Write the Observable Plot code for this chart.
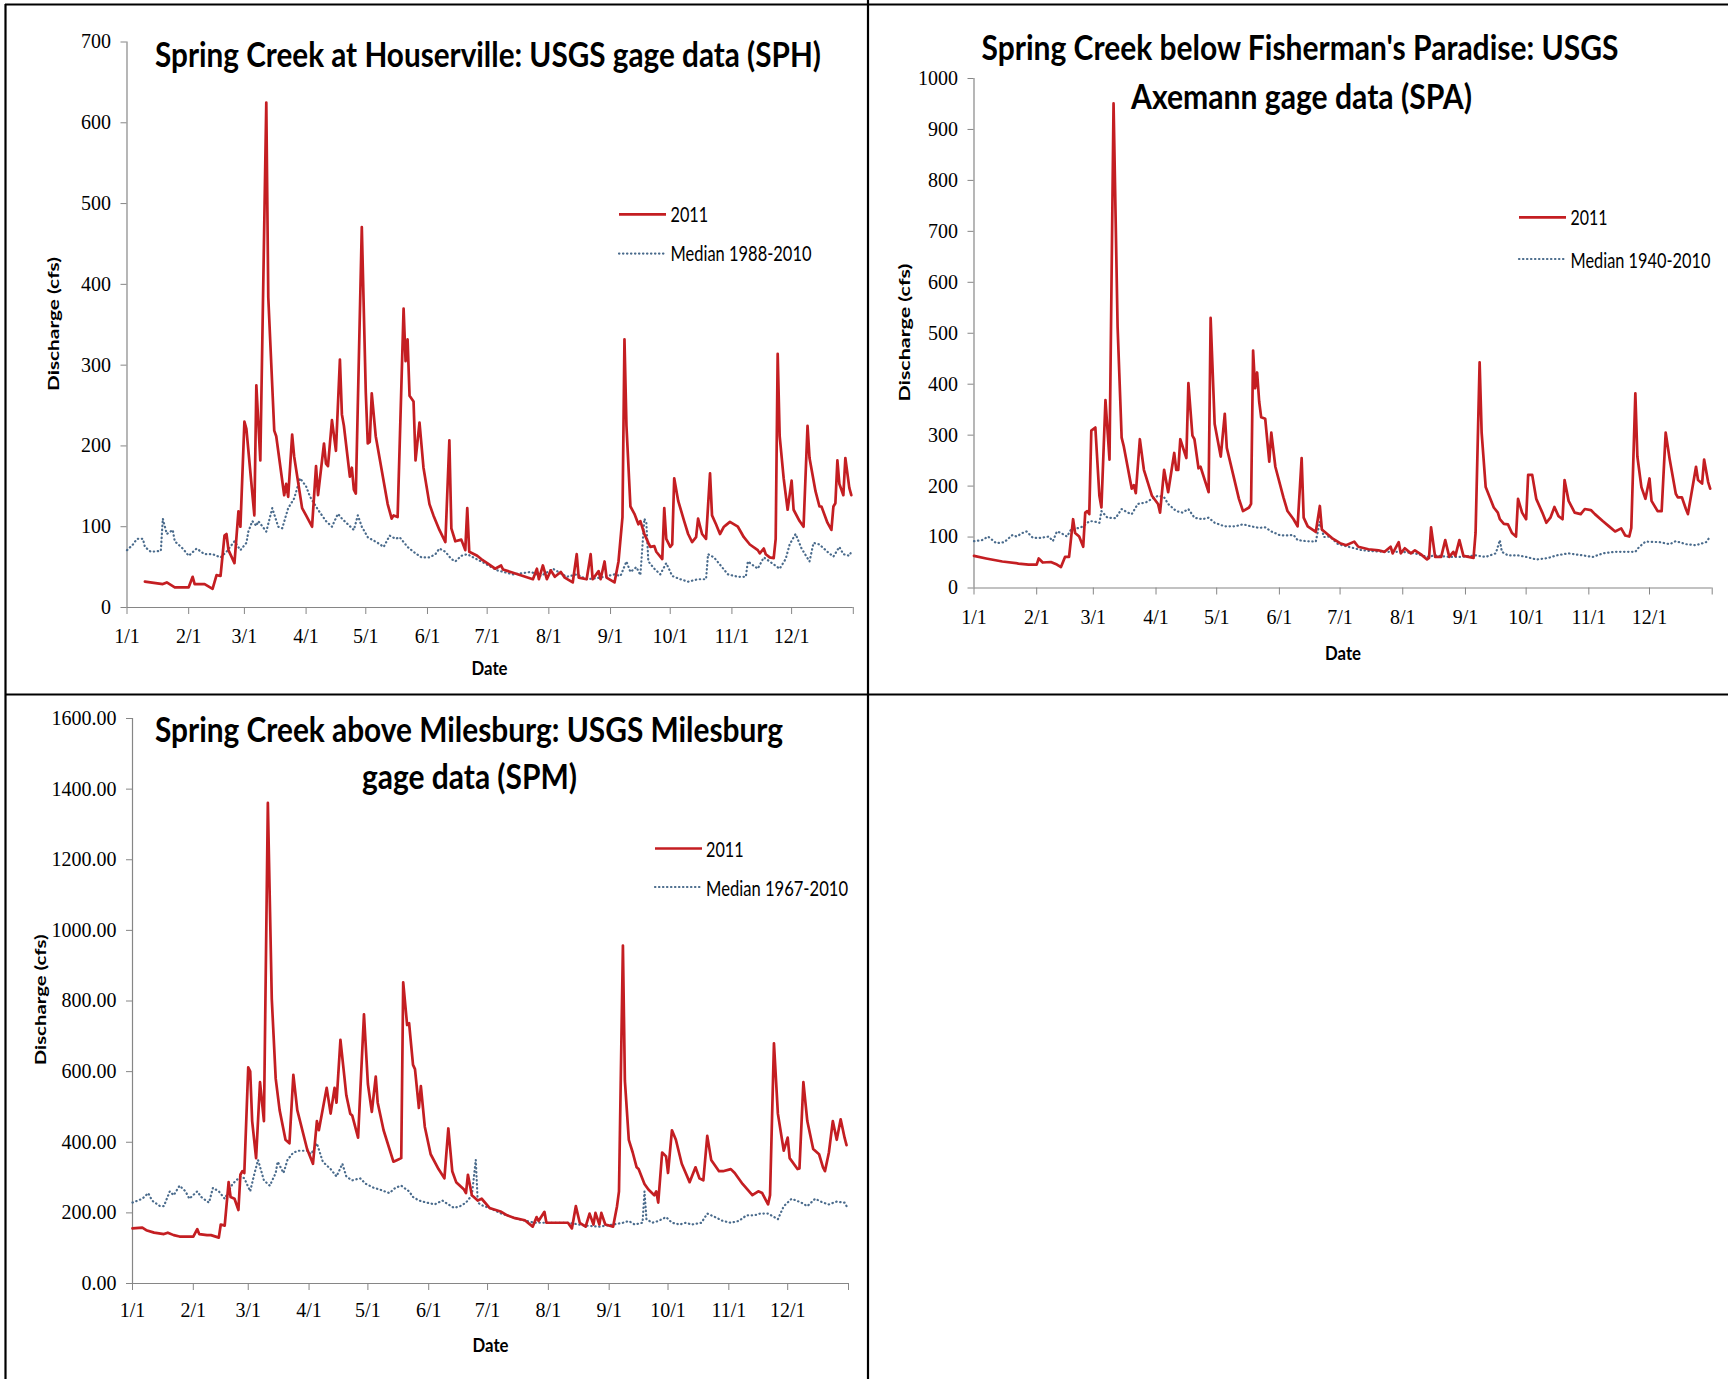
<!DOCTYPE html>
<html>
<head>
<meta charset="utf-8">
<script src="https://cdn.jsdelivr.net/npm/d3@7"></script>
<script src="https://cdn.jsdelivr.net/npm/@observablehq/plot@0.6"></script>
<style>
  html, body { margin: 0; padding: 0; background: #fff; width: 1728px; height: 1379px; overflow: hidden; }
  #page { position: relative; width: 1728px; height: 1379px; }
  .panel { position: absolute; }
  #overlay { position: absolute; left: 0; top: 0; pointer-events: none; }
</style>
</head>
<body>
<div id="page"></div>
<script>
// Daily discharge (cfs). Each pair is [day of year (0 = Jan 1), cfs].

// Spring Creek at Houserville (SPH)
const sph2011 = [[9,32],[18,29],[20,31],[24,25],[31,25],[33,38],[34,29],[39,29],[43,23],[45,40],[47,39],[49,89],[50,91],[51,71],[54,55],[56,119],[57,100],[59,230],[60,221],[64,114],[65,275],[67,182],[70,625],[71,384],[74,219],[75,212],[79,139],[80,153],[81,137],[83,214],[84,187],[88,123],[90,114],[93,100],[95,175],[96,139],[99,203],[100,178],[101,175],[103,232],[105,194],[107,307],[108,239],[109,225],[112,162],[113,173],[114,146],[115,141],[118,471],[120,266],[121,203],[122,205],[123,265],[125,212],[131,128],[133,110],[134,114],[136,112],[139,370],[140,305],[141,332],[142,262],[144,255],[145,182],[147,229],[149,173],[152,128],[154,114],[157,96],[160,81],[162,207],[163,98],[165,82],[168,84],[170,71],[171,123],[172,69],[176,64],[178,60],[181,55],[185,48],[188,52],[189,47],[194,43],[199,39],[204,35],[206,48],[207,35],[209,52],[211,35],[213,46],[215,38],[218,44],[220,37],[224,31],[226,66],[227,37],[231,35],[233,66],[234,35],[237,45],[238,35],[240,57],[241,37],[245,31],[247,57],[249,112],[250,332],[251,225],[253,125],[255,116],[257,103],[258,107],[260,91],[262,80],[263,75],[265,76],[266,69],[269,60],[270,123],[271,85],[273,75],[274,78],[275,160],[277,132],[280,107],[282,91],[284,81],[286,87],[287,110],[289,91],[291,85],[293,166],[294,114],[296,103],[298,91],[300,100],[301,102],[303,106],[307,100],[310,87],[313,78],[317,71],[318,67],[320,73],[321,66],[323,62],[325,61],[326,85],[327,314],[328,212],[330,160],[332,121],[334,157],[335,121],[338,107],[340,100],[342,225],[343,185],[346,144],[348,125],[349,125],[352,105],[354,96],[355,125],[356,129],[357,182],[358,153],[360,139],[361,185],[363,148],[364,139]];
const sphMedian = [[0,71],[3,78],[5,85],[8,85],[9,75],[12,69],[17,70],[18,110],[20,91],[23,96],[24,82],[28,73],[31,64],[35,73],[39,66],[43,66],[47,62],[50,69],[54,82],[57,71],[60,80],[61,94],[63,107],[65,101],[66,107],[70,94],[73,123],[76,100],[78,98],[81,123],[84,135],[87,160],[90,150],[92,137],[96,121],[100,107],[103,100],[106,116],[108,110],[111,103],[114,96],[116,114],[118,100],[121,87],[126,80],[129,75],[132,89],[135,85],[137,87],[141,75],[144,69],[148,62],[152,62],[155,66],[157,73],[160,69],[163,60],[165,57],[168,64],[171,66],[174,62],[178,57],[181,53],[186,46],[194,41],[203,44],[208,39],[214,48],[221,38],[226,41],[231,35],[238,37],[245,41],[248,39],[251,57],[253,44],[256,50],[258,40],[260,110],[261,105],[262,57],[265,48],[268,41],[271,55],[274,39],[278,35],[282,32],[287,35],[291,35],[292,66],[295,62],[298,53],[302,41],[307,38],[311,38],[312,57],[317,48],[320,62],[323,57],[328,48],[331,60],[333,78],[336,91],[339,73],[343,57],[345,80],[348,78],[352,69],[355,63],[358,75],[360,66],[363,64],[364,69]];

// Spring Creek below Fisherman's Paradise, Axemann gage (SPA)
const spa2011 = [[0,63],[6,58],[14,52],[22,48],[27,46],[31,46],[32,58],[34,50],[38,51],[41,46],[43,41],[45,61],[47,61],[49,135],[50,108],[52,101],[54,81],[55,148],[56,151],[57,145],[58,309],[60,315],[62,181],[63,158],[65,369],[67,252],[69,951],[71,513],[73,295],[74,279],[78,195],[79,202],[80,186],[82,292],[84,232],[88,181],[91,165],[92,148],[94,232],[96,188],[99,265],[100,232],[101,232],[102,292],[105,255],[106,402],[108,299],[109,292],[111,235],[112,238],[116,188],[117,530],[119,322],[122,258],[124,342],[125,275],[131,175],[133,151],[136,158],[137,165],[138,466],[139,392],[140,423],[141,366],[142,335],[144,332],[146,248],[147,305],[149,238],[153,178],[155,151],[158,135],[160,121],[162,255],[163,138],[165,121],[169,110],[171,161],[172,115],[177,98],[181,88],[184,84],[188,91],[190,81],[195,76],[200,74],[203,71],[206,81],[207,68],[210,90],[211,68],[213,78],[216,68],[218,74],[221,66],[224,56],[225,59],[226,119],[228,61],[231,61],[233,94],[235,61],[237,71],[238,63],[240,94],[242,63],[247,59],[248,108],[250,443],[251,305],[253,198],[255,178],[257,158],[259,148],[260,135],[262,126],[264,125],[266,108],[268,101],[269,175],[271,148],[273,135],[274,222],[276,222],[278,175],[281,148],[283,128],[285,138],[287,159],[289,141],[291,135],[292,212],[294,171],[297,148],[300,145],[302,155],[305,153],[307,145],[311,131],[314,121],[317,111],[320,117],[322,103],[324,101],[325,118],[327,382],[328,258],[330,198],[332,175],[334,215],[335,171],[338,151],[340,151],[342,305],[344,252],[347,185],[348,178],[350,178],[352,155],[353,145],[357,238],[358,212],[360,205],[361,252],[363,208],[364,195]];
const spaMedian = [[0,92],[4,94],[7,101],[11,88],[15,90],[19,104],[21,101],[24,108],[26,111],[29,99],[32,98],[37,101],[39,92],[41,111],[43,108],[46,101],[48,115],[52,118],[54,121],[57,131],[59,131],[62,128],[63,151],[66,138],[70,137],[73,155],[76,148],[78,145],[81,165],[85,168],[88,175],[91,181],[94,178],[96,165],[100,151],[103,148],[106,155],[109,138],[113,135],[116,138],[119,128],[124,121],[129,121],[133,125],[137,121],[141,118],[144,119],[147,111],[151,104],[154,103],[158,104],[160,94],[164,92],[169,91],[171,130],[173,100],[176,101],[180,86],[185,81],[192,74],[198,72],[205,71],[212,71],[218,68],[224,61],[228,64],[235,61],[241,61],[248,64],[253,61],[258,68],[260,94],[261,71],[264,64],[269,64],[273,61],[278,56],[284,59],[288,64],[294,68],[301,64],[306,61],[311,68],[317,71],[322,71],[327,71],[329,81],[332,91],[339,90],[344,86],[347,92],[352,86],[357,84],[362,90],[364,101]];

// Spring Creek above Milesburg (SPM)
const spm2011 = [[0,156],[5,158],[7,151],[11,144],[16,140],[18,144],[21,137],[24,133],[31,133],[33,154],[34,140],[38,137],[40,137],[44,130],[45,167],[47,164],[49,287],[50,245],[52,240],[54,208],[55,308],[56,318],[57,313],[59,612],[60,601],[61,460],[63,355],[65,570],[67,460],[69,1361],[71,806],[73,580],[75,491],[78,407],[80,397],[82,591],[84,491],[89,381],[92,339],[94,460],[95,434],[99,554],[101,481],[103,554],[104,512],[106,690],[108,586],[109,533],[111,481],[112,476],[115,413],[118,762],[120,565],[122,486],[124,586],[125,512],[128,434],[133,345],[135,350],[137,355],[138,853],[140,732],[141,737],[143,619],[144,607],[146,497],[147,559],[149,444],[152,366],[156,324],[159,298],[161,439],[163,318],[165,287],[169,266],[170,256],[171,308],[173,250],[176,235],[178,240],[182,214],[188,203],[191,193],[195,185],[200,179],[204,161],[206,188],[207,177],[210,203],[211,172],[217,172],[222,172],[224,156],[226,219],[228,172],[231,161],[233,198],[235,167],[236,200],[238,167],[239,200],[241,167],[245,161],[247,219],[248,261],[250,957],[251,575],[253,407],[255,371],[257,329],[258,324],[261,282],[263,266],[266,250],[267,261],[268,229],[270,371],[272,360],[273,313],[275,434],[277,407],[280,339],[284,287],[287,329],[289,298],[291,292],[293,418],[295,350],[299,318],[301,318],[305,324],[307,313],[311,282],[316,250],[319,261],[321,256],[324,224],[325,250],[327,680],[329,481],[332,376],[334,413],[335,355],[339,324],[340,326],[342,570],[344,460],[347,381],[350,366],[352,329],[353,318],[355,371],[357,460],[359,407],[361,465],[363,413],[364,392]];
const spmMedian = [[0,229],[5,240],[8,256],[10,235],[14,219],[16,219],[19,261],[21,250],[24,277],[27,261],[29,240],[33,261],[35,245],[39,229],[41,271],[44,261],[47,240],[49,261],[51,282],[55,303],[57,298],[60,261],[62,308],[64,350],[67,292],[70,277],[73,313],[74,345],[77,313],[79,350],[82,371],[85,376],[89,376],[91,366],[94,397],[97,345],[101,324],[104,303],[107,339],[109,303],[112,292],[116,298],[119,282],[123,271],[126,266],[131,256],[134,271],[137,277],[141,261],[143,245],[146,235],[150,229],[154,224],[158,235],[161,224],[164,214],[167,219],[170,229],[173,250],[175,350],[176,229],[179,219],[182,214],[188,198],[197,182],[205,172],[214,172],[222,172],[231,164],[238,161],[245,167],[250,172],[253,177],[256,167],[260,172],[261,261],[262,182],[265,172],[268,177],[272,188],[275,172],[279,167],[282,172],[285,167],[290,172],[293,198],[297,188],[301,177],[305,172],[309,177],[313,193],[317,193],[320,198],[324,198],[329,182],[332,219],[336,240],[341,229],[344,219],[348,240],[352,229],[355,224],[359,232],[363,229],[364,219]];

// Text
const titles = {
  sph: ["Spring Creek at Houserville: USGS gage data (SPH)"],
  spa: ["Spring Creek below Fisherman's Paradise: USGS", "Axemann gage data (SPA)"],
  spm: ["Spring Creek above Milesburg: USGS Milesburg", "gage data (SPM)"]
};
const seriesNames = { obs: "2011", sph: "Median 1988-2010", spa: "Median 1940-2010", spm: "Median 1967-2010" };
const yLabel = "Discharge (cfs)";
const xLabel = "Date";

const RED = "#c41e22";
const MEDIAN = "#4a6b8c";
const AXIS = "#868686";

const yearStart = new Date(Date.UTC(2011, 0, 1));
const yearEnd = new Date(Date.UTC(2012, 0, 1));
const toRows = pairs => pairs.map(([d, v]) => ({ date: new Date(Date.UTC(2011, 0, 1 + d)), cfs: v }));
const monthTicks = d3.utcMonth.range(yearStart, yearEnd).concat([yearEnd]);
const monthDay = d => (+d >= +yearEnd ? "" : `${d.getUTCMonth() + 1}/${d.getUTCDate()}`);

const panels = [
  { key: "sph", obs: sph2011, med: sphMedian, left: 0, top: 0, width: 868, height: 694,
    margin: [41.5, 15.2, 87, 126.5], yMax: 700, yStep: 100, yFormat: d3.format("d"), padX: 14,
    title: [{ x: 488, y: 67, len: 666 }],
    legend: { x1: 619, x2: 666, y1: 214.3, y2: 253.6, tx: 670.5, b1: 221.5, b2: 260.5, l1: 37.7, l2: 141 },
    ylab: { x: 58.5, y: 324, len: 134 }, xlab: { x: 489.5, y: 675 } },
  { key: "spa", obs: spa2011, med: spaMedian, left: 868, top: 0, width: 860, height: 694,
    margin: [78, 16.3, 106.5, 105.5], yMax: 1000, yStep: 100, yFormat: d3.format("d"), padX: 15,
    title: [{ x: 1300, y: 60, len: 637 }, { x: 1301.5, y: 109, len: 341 }],
    legend: { x1: 1519, x2: 1566, y1: 217.4, y2: 259, tx: 1570.5, b1: 225, b2: 268, l1: 37, l2: 140 },
    ylab: { x: 909.5, y: 332.6, len: 138 }, xlab: { x: 1343, y: 660 } },
  { key: "spm", obs: spm2011, med: spmMedian, left: 0, top: 694, width: 868, height: 685,
    margin: [24, 20, 96, 132], yMax: 1600, yStep: 200, yFormat: d3.format(".2f"), padX: 12,
    title: [{ x: 469, y: 742, len: 628 }, { x: 469.5, y: 789, len: 215 }],
    legend: { x1: 655, x2: 702, y1: 848.5, y2: 887, tx: 706, b1: 857, b2: 896, l1: 37.6, l2: 142 },
    ylab: { x: 45.5, y: 999.8, len: 131 }, xlab: { x: 490.5, y: 1352 } }
];

const page = document.getElementById("page");

for (const p of panels) {
  const [mt, mr, mb, ml] = p.margin;
  const chart = Plot.plot({
    width: p.width,
    height: p.height,
    marginTop: mt, marginRight: mr, marginBottom: mb, marginLeft: ml,
    style: { background: "transparent", fontFamily: "'Liberation Serif', serif", fontSize: "20px", color: "black", overflow: "visible" },
    x: { type: "utc", domain: [yearStart, yearEnd] },
    y: { domain: [0, p.yMax] },
    marks: [
      Plot.axisX({ ticks: monthTicks, tickFormat: monthDay, tickSize: 7, tickPadding: p.padX,
        stroke: AXIS, fill: "black", label: null, fontSize: 20, fontFamily: "'Liberation Serif', serif" }),
      Plot.axisY({ ticks: d3.range(0, p.yMax + 1, p.yStep), tickFormat: p.yFormat, tickSize: 6, tickPadding: 10,
        stroke: AXIS, fill: "black", label: null, fontSize: 20, fontFamily: "'Liberation Serif', serif" }),
      Plot.ruleY([0], { stroke: AXIS, strokeWidth: 1.2 }),
      Plot.ruleX([yearStart], { y1: 0, y2: p.yMax, stroke: AXIS, strokeWidth: 1.2 }),
      Plot.line(toRows(p.med), { x: "date", y: "cfs", stroke: MEDIAN, strokeWidth: 2.2,
        strokeDasharray: "0.4,3.6", strokeLinecap: "round" }),
      Plot.line(toRows(p.obs), { x: "date", y: "cfs", stroke: RED, strokeWidth: 2.7,
        strokeLinejoin: "round" })
    ]
  });
  chart.classList.add("panel");
  chart.style.left = p.left + "px";
  chart.style.top = p.top + "px";
  page.appendChild(chart);
}

// Frame lines, titles, legends and axis titles
const overlay = d3.select(page).append("svg")
  .attr("id", "overlay")
  .attr("width", 1728).attr("height", 1379);

const frame = [
  [5, 4.5, 1728, 4.5],
  [5.5, 4, 5.5, 1379],
  [868, 0, 868, 1379],
  [5, 694.5, 1728, 694.5]
];
overlay.selectAll("line.frame").data(frame).join("line")
  .attr("class", "frame")
  .attr("x1", d => d[0]).attr("y1", d => d[1]).attr("x2", d => d[2]).attr("y2", d => d[3])
  .attr("stroke", "#000").attr("stroke-width", 2.2);

// Text in the narrow, tall style of the chart: glyphs are stretched vertically by sy
function label(g, { x, y, text, size, weight = 400, len, rotate = 0, sy = 1, anchor = "middle" }) {
  const t = g.append("text")
    .attr("transform", `translate(${x},${y})` + (rotate ? ` rotate(${rotate})` : "") + (sy !== 1 ? ` scale(1,${sy})` : ""))
    .attr("text-anchor", anchor)
    .attr("font-family", "Lato, 'Open Sans', sans-serif")
    .attr("font-size", size)
    .attr("font-weight", weight)
    .attr("fill", "#000")
    .text(text);
  if (len) t.attr("textLength", len).attr("lengthAdjust", "spacingAndGlyphs");
  return t;
}

for (const p of panels) {
  const g = overlay.append("g");
  titles[p.key].forEach((line, i) => {
    const t = p.title[i];
    label(g, { x: t.x, y: t.y, text: line, size: 28, weight: 700, len: t.len, sy: 1.22 });
  });
  const L = p.legend;
  g.append("line").attr("x1", L.x1).attr("x2", L.x2).attr("y1", L.y1).attr("y2", L.y1)
    .attr("stroke", RED).attr("stroke-width", 2.7);
  g.append("line").attr("x1", L.x1).attr("x2", L.x2).attr("y1", L.y2).attr("y2", L.y2)
    .attr("stroke", MEDIAN).attr("stroke-width", 2.2)
    .attr("stroke-dasharray", "0.4,3.6").attr("stroke-linecap", "round");
  label(g, { x: L.tx, y: L.b1, text: seriesNames.obs, size: 17, len: L.l1, anchor: "start", sy: 1.2 });
  label(g, { x: L.tx, y: L.b2, text: seriesNames[p.key], size: 17, len: L.l2, anchor: "start", sy: 1.2 });
  label(g, { x: p.ylab.x, y: p.ylab.y, text: yLabel, size: 16, weight: 700, len: p.ylab.len, rotate: -90 });
  label(g, { x: p.xlab.x, y: p.xlab.y, text: xLabel, size: 17, weight: 700, len: 36, sy: 1.15 });
}
</script>
</body>
</html>
